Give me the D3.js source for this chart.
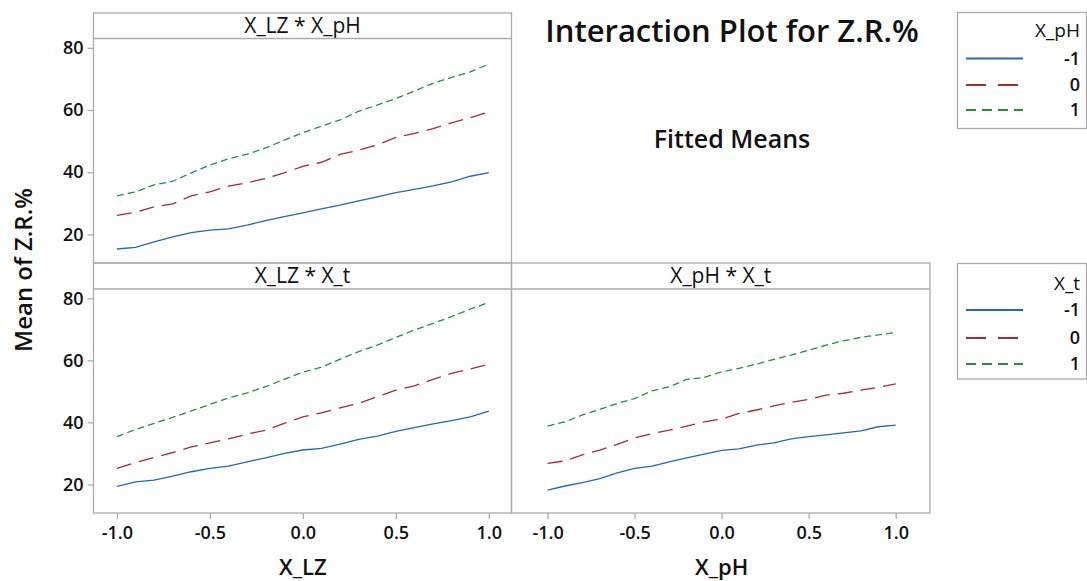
<!DOCTYPE html>
<html lang="en">
<meta charset="utf-8">
<style>
body { margin: 0; background: #fff; }
svg text { font-family: "Open Sans", "Noto Sans", sans-serif; fill: #111; }
</style>
<body>
<script src="https://cdn.jsdelivr.net/npm/d3@7"></script>
<script>
// factor levels along the x axis of every panel
var xGrid = [-1.0, -0.9, -0.8, -0.7, -0.6, -0.5, -0.4, -0.3, -0.2, -0.1, 0.0,
             0.1, 0.2, 0.3, 0.4, 0.5, 0.6, 0.7, 0.8, 0.9, 1.0];

// X_LZ * X_pH (fitted means, X_pH = -1, 0, 1)
var lzPhLow  = [15.3, 15.8, 17.6, 19.2, 20.6, 21.4, 21.8, 23.0, 24.4, 25.7, 26.9,
                28.2, 29.4, 30.8, 32.1, 33.4, 34.5, 35.6, 36.9, 38.7, 39.9];
var lzPhMid  = [26.1, 27.1, 28.9, 29.8, 32.4, 33.7, 35.5, 36.6, 38.0, 39.8, 41.9,
                43.2, 45.7, 47.1, 48.8, 51.2, 52.5, 54.0, 55.9, 57.5, 59.4];
var lzPhHigh = [32.4, 33.7, 35.9, 37.1, 39.8, 42.3, 44.3, 45.8, 47.8, 50.3, 52.7,
                54.8, 56.8, 59.6, 61.6, 63.7, 66.1, 68.6, 70.5, 72.3, 74.8];

// X_LZ * X_t (X_t = -1, 0, 1)
var lzTLow  = [19.4, 20.8, 21.4, 22.7, 24.1, 25.2, 25.9, 27.3, 28.6, 30.0, 31.1,
               31.6, 33.0, 34.5, 35.6, 37.1, 38.3, 39.5, 40.6, 41.8, 43.6];
var lzTMid  = [25.2, 27.1, 28.7, 30.3, 32.1, 33.4, 34.7, 36.2, 37.5, 39.7, 41.8,
               43.1, 44.7, 46.1, 48.3, 50.4, 51.8, 53.9, 55.8, 57.2, 58.8];
var lzTHigh = [35.4, 37.7, 39.7, 41.6, 43.7, 45.8, 47.9, 49.5, 51.5, 53.9, 56.2,
               57.8, 60.4, 62.8, 64.9, 67.4, 69.8, 71.9, 74.1, 76.5, 78.7];

// X_pH * X_t (X_t = -1, 0, 1)
var phTLow  = [18.2, 19.5, 20.6, 21.9, 23.7, 25.2, 25.9, 27.3, 28.6, 29.8, 31.0,
               31.5, 32.7, 33.4, 34.7, 35.4, 36.0, 36.6, 37.3, 38.6, 39.1];
var phTMid  = [26.8, 27.6, 29.5, 31.1, 32.9, 35.0, 36.4, 37.5, 38.8, 40.2, 41.1,
               42.9, 44.0, 45.3, 46.5, 47.4, 48.8, 49.4, 50.4, 51.3, 52.4];
var phTHigh = [38.8, 40.2, 42.4, 44.2, 46.1, 47.7, 50.2, 51.5, 53.9, 54.5, 56.3,
               57.4, 58.8, 60.3, 61.7, 63.3, 64.9, 66.3, 67.4, 68.2, 69.0];

var yTicks = [20, 40, 60, 80];
var xTicks = [-1.0, -0.5, 0.0, 0.5, 1.0];
var levelLabels = ["-1", "0", "1"];

// styling
var width = 1087, height = 581;
var border = "#ababab";
var colors = ["#2168b9", "#a82a2e", "#1f953b"];
var dashes = [null, "15,8", "7,4"];

var svg = d3.select("body").append("svg")
    .attr("width", width)
    .attr("height", height);

svg.append("rect").attr("width", width).attr("height", height).attr("fill", "#fff");

var panels = [
  {title: "X_LZ * X_pH", x0: 93.5, x1: 511.5, y0: 13, yh: 38.5, y1: 263,
   xdom: [-1.126, 1.122], series: [lzPhLow, lzPhMid, lzPhHigh], yAxis: true, xTitle: null},
  {title: "X_LZ * X_t", x0: 93.5, x1: 511.5, y0: 263, yh: 289, y1: 513,
   xdom: [-1.126, 1.122], series: [lzTLow, lzTMid, lzTHigh], yAxis: true, xTitle: "X_LZ"},
  {title: "X_pH * X_t", x0: 511.5, x1: 930, y0: 263, yh: 289, y1: 513,
   xdom: [-1.207, 1.197], series: [phTLow, phTMid, phTHigh], yAxis: false, xTitle: "X_pH"}
];

panels.forEach(function(p) {
  var x = d3.scaleLinear().domain(p.xdom).range([p.x0, p.x1]);
  var y = d3.scaleLinear().domain([10.8, 83]).range([p.y1, p.yh]);
  var g = svg.append("g");

  var line = d3.line()
      .x(function(d, i) { return x(xGrid[i]); })
      .y(function(d) { return y(d); });

  g.selectAll("path.series")
      .data(p.series)
    .enter().append("path")
      .attr("class", "series")
      .attr("d", line)
      .attr("fill", "none")
      .attr("stroke", function(d, i) { return colors[i]; })
      .attr("stroke-width", 1.3)
      .attr("stroke-dasharray", function(d, i) { return dashes[i]; });

  // panel frame + header strip
  g.append("rect")
      .attr("x", p.x0).attr("y", p.y0)
      .attr("width", p.x1 - p.x0).attr("height", p.y1 - p.y0)
      .attr("fill", "none").attr("stroke", border).attr("stroke-width", 1.3);
  g.append("line")
      .attr("x1", p.x0).attr("x2", p.x1).attr("y1", p.yh).attr("y2", p.yh)
      .attr("stroke", border).attr("stroke-width", 1.3);
  g.append("text")
      .attr("x", (p.x0 + p.x1) / 2).attr("y", p.yh - 6)
      .attr("text-anchor", "middle")
      .style("font-size", "21px").style("font-weight", 500)
      .text(p.title);

  if (p.yAxis) {
    var ya = g.append("g")
        .attr("transform", "translate(" + p.x0 + ",0)")
        .call(d3.axisLeft(y).tickValues(yTicks).tickSize(6).tickPadding(4).tickFormat(d3.format("d")));
    ya.select(".domain").remove();
    ya.selectAll("line").attr("stroke", border).attr("stroke-width", 1.3);
    ya.selectAll("text").style("font-size", "18px").style("font-weight", 600).attr("fill", "#111");
  }

  if (p.xTitle) {
    var xa = g.append("g")
        .attr("transform", "translate(0," + p.y1 + ")")
        .call(d3.axisBottom(x).tickValues(xTicks).tickSize(6).tickPadding(7)
          .tickFormat(function(d) { return d.toFixed(1); }));
    xa.select(".domain").remove();
    xa.selectAll("line").attr("stroke", border).attr("stroke-width", 1.3);
    xa.selectAll("text").style("font-size", "18px").style("font-weight", 600).attr("fill", "#111");

    g.append("text")
        .attr("x", x(0)).attr("y", 575)
        .attr("text-anchor", "middle")
        .style("font-size", "22px").style("font-weight", 600)
        .text(p.xTitle);
  }
});

// y axis title
svg.append("text")
    .attr("transform", "translate(32,270) rotate(-90)")
    .attr("text-anchor", "middle")
    .style("font-size", "24px").style("font-weight", 600)
    .text("Mean of Z.R.%");

// titles
svg.append("text")
    .attr("x", 732).attr("y", 42)
    .attr("text-anchor", "middle")
    .style("font-size", "31px").style("font-weight", 600)
    .text("Interaction Plot for Z.R.%");
svg.append("text")
    .attr("x", 732).attr("y", 148)
    .attr("text-anchor", "middle")
    .style("font-size", "25px").style("font-weight", 600)
    .text("Fitted Means");

// legends
var legends = [
  {title: "X_pH", y0: 12.5, y1: 128.5, rows: [58.5, 85, 110], ty: 37},
  {title: "X_t", y0: 263.5, y1: 379, rows: [310, 338, 364], ty: 290}
];

legends.forEach(function(L) {
  var g = svg.append("g");
  g.append("rect")
      .attr("x", 957.5).attr("y", L.y0)
      .attr("width", 129).attr("height", L.y1 - L.y0)
      .attr("fill", "#fff").attr("stroke", border).attr("stroke-width", 1.3);
  g.append("text")
      .attr("x", 1080).attr("y", L.ty)
      .attr("text-anchor", "end")
      .style("font-size", "19px").style("font-weight", 500)
      .text(L.title);
  var row = g.selectAll("g.row")
      .data(levelLabels)
    .enter().append("g")
      .attr("class", "row")
      .attr("transform", function(d, i) { return "translate(0," + L.rows[i] + ")"; });
  row.append("line")
      .attr("x1", 966).attr("x2", 1023)
      .attr("stroke", function(d, i) { return colors[i]; })
      .attr("stroke-width", 2)
      .attr("stroke-dasharray", function(d, i) { return i === 0 ? null : (i === 1 ? "20,12" : "10,6"); });
  row.append("text")
      .attr("x", 1080).attr("dy", "0.35em")
      .attr("text-anchor", "end")
      .style("font-size", "18px").style("font-weight", 600)
      .text(function(d) { return d; });
});
</script>
</body>
</html>
